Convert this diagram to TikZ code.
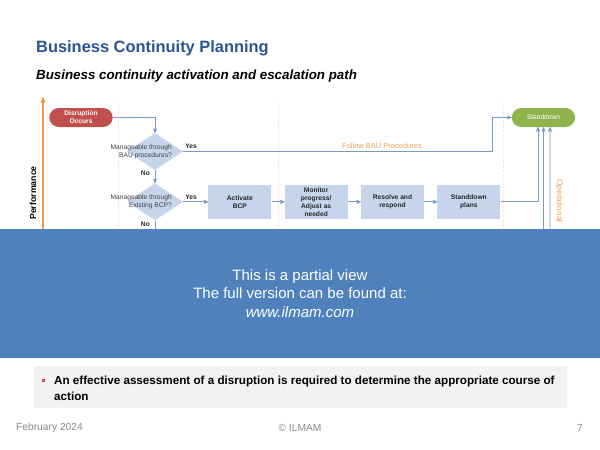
\documentclass[tikz,border=0pt]{standalone}
\usepackage{fontspec}
\setmainfont{Liberation Sans}
\usepackage{tikz}
\usetikzlibrary{arrows}
\usetikzlibrary{shapes, positioning, calc}

\definecolor{titleblue}{RGB}{41,84,145}
\definecolor{boxblue}{RGB}{198,213,236}
\definecolor{boxtext}{RGB}{38,38,38}
\definecolor{qtext}{RGB}{64,64,64}
\definecolor{linkblue}{RGB}{120,155,200}
\definecolor{disred}{RGB}{192,80,77}
\definecolor{sdgreen}{RGB}{143,180,78}
\definecolor{axisorange}{RGB}{247,150,70}
\definecolor{noteorange}{RGB}{240,160,90}
\definecolor{guideorange}{RGB}{250,215,180}
\definecolor{bandblue}{RGB}{79,129,189}
\definecolor{greybox}{RGB}{242,242,242}
\definecolor{footgrey}{RGB}{137,137,137}

\begin{document}
\begin{tikzpicture}[x=1.2pt, y=-1.2pt, >=stealth',
  sq node/.style={rectangle, fill=boxblue, minimum width=75.6pt, minimum height=40.8pt,
    inner sep=1pt, align=center, text=boxtext, font=\fontsize{8}{9.6}\selectfont\bfseries},
  dec node/.style={diamond, fill=boxblue, minimum width=67.2pt, minimum height=44.4pt, inner sep=0pt},
  q text/.style={align=right, inner sep=0pt, text=qtext, font=\fontsize{8}{10}\selectfont},
  end node/.style={rectangle, rounded corners=11.4pt, minimum width=76pt, minimum height=22.8pt,
    inner sep=1pt, align=center, text=white, font=\fontsize{8}{9.6}\selectfont},
  yn/.style={inner sep=0pt, text=boxtext, font=\fontsize{8}{9.6}\selectfont\bfseries},
  note/.style={text=noteorange, font=\fontsize{9}{11}\selectfont},
  foot/.style={text=footgrey, font=\fontsize{12.3}{14}\selectfont},
  link/.style={draw=linkblue, line width=0.9pt},
  guide/.style={draw=guideorange, line width=0.9pt, dash pattern=on 1.2pt off 1.8pt}]
  \useasboundingbox (0,0) rectangle (600,450);

  % heading
  \node[anchor=base west, inner sep=0pt, text=titleblue, font=\fontsize{19.7}{24}\selectfont\bfseries] (title) at (36,52) {Business Continuity Planning};
  \node[anchor=base west, inner sep=0pt, font=\fontsize{16}{19}\selectfont\bfseries\itshape] (subtitle) at (36,80) {Business continuity activation and escalation path};

  % stage guides and axis
  \foreach \gx in {118,278,503}
    \draw[guide] (\gx,102) -- (\gx,235);
  \coordinate (ax0) at (43,235);
  \coordinate (ax1) at (43,97);
  \draw[->, draw=axisorange, line width=1.4pt] (ax0) -- (ax1);
  \node[rotate=90, font=\fontsize{10.5}{12}\selectfont\bfseries] (perf) at (33,193) {Performance};

  % flow
  \node[end node, fill=disred, font=\fontsize{8}{9.6}\selectfont\bfseries] (dis) at (81,117.5) {Disruption\\Occurs};
  \node[dec node] (q1) at (155,151.5) {};
  \node[dec node, below=15.6pt of q1] (q2) {};
  \node[q text, anchor=east] (q1t) at ([xshift=20.4pt]q1.center) {Manageable through\\BAU procedures?};
  \node[q text, anchor=east] (q2t) at ([xshift=20.4pt]q2.center) {Manageable through\\Existing BCP?};
  \node[sq node, right=30pt of q2] (act) {Activate\\BCP};
  \node[sq node, right=15.6pt of act] (mon) {Monitor\\progress/\\Adjust as\\needed};
  \node[sq node, right=15.6pt of mon] (res) {Resolve and\\respond};
  \node[sq node, right=15.6pt of res] (sdp) {Standdown\\plans};
  \node[end node, fill=sdgreen] (sd) at (543.5,117.5) {Standdown};

  \node[yn, above right=3pt and 2.4pt of q1.east] (y1) {Yes};
  \node[yn, above right=3pt and 2.4pt of q2.east] (y2) {Yes};
  \node[yn, below left=1pt and 6pt of q1.south] (n1) {No};
  \node[yn, below left=1pt and 6pt of q2.south] (n2) {No};
  \node[note] (fbau) at (382,146) {Follow BAU Procedures};
  \node[note, rotate=-90, font=\fontsize{10}{12}\selectfont] (ops) at (559,201) {Operational};

  \coordinate (q2out) at (155,235);
  \coordinate (in2) at (543.5,235);
  \coordinate (in3) at (550.1,235);
  \draw[link, ->] (dis) -| (q1);
  \draw[link, ->] (q1) -- (q2);
  \draw[link, ->] (q1.east) -| ([xshift=-22.8pt]sd.west) -- (sd.west);
  \draw[link, ->] (q2) -- (act);
  \draw[link, ->] (act) -- (mon);
  \draw[link, ->] (mon) -- (res);
  \draw[link, ->] (res) -- (sdp);
  \draw[link, ->] (sdp) -| ([xshift=-6.6pt]sd.south);
  \draw[link, ->] (in2) -- (sd.south);
  \draw[link, ->] (in3) -- ([xshift=7.9pt]sd.south);
  \draw[link] (q2) -- (q2out);

  % partial view band
  \fill[bandblue] (0,229) rectangle (600,358);
  \node[align=center, text=white, font=\fontsize{18}{22.2}\selectfont] (band) at (300,293.5) {This is a partial view\\The full version can be found at:\\\textit{www.ilmam.com}};

  % key message
  \fill[greybox] (34,366) rectangle (567,408);
  \fill[disred] (41.5,378.5) rectangle (44.5,381.5);
  \node[anchor=north west, inner sep=0pt, align=left, font=\fontsize{14}{19.2}\selectfont\bfseries] (msg) at (54,375.5) {An effective assessment of a disruption is required to determine the appropriate course of\\action};

  % footer
  \node[foot, anchor=west, inner sep=0pt] (date) at (16,428) {February 2024};
  \node[foot] (copy) at (300,428) {© ILMAM};
  \node[foot] (page) at (580,428) {7};
\end{tikzpicture}
\end{document}
